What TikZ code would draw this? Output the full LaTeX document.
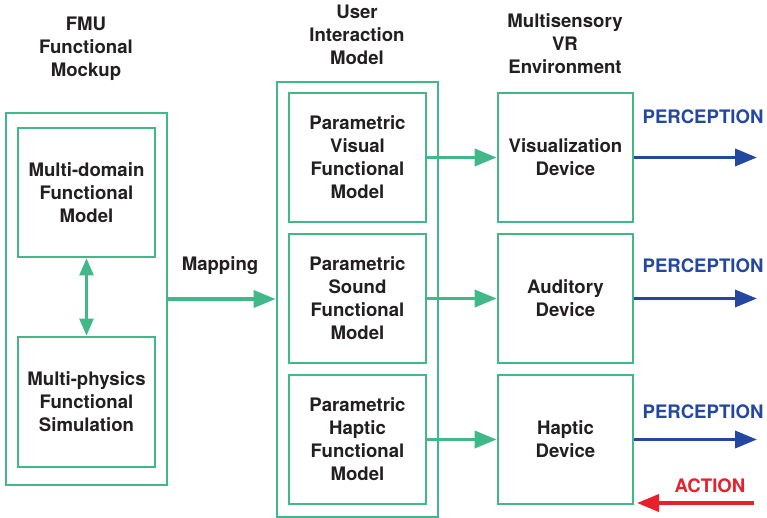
\documentclass[tikz,border=0pt]{standalone}
\usepackage{fontspec}
\setmainfont{TeX Gyre Heros}
\usetikzlibrary{arrows.meta}
\definecolor{gr}{RGB}{64,184,136}
\definecolor{bl}{RGB}{36,72,160}
\definecolor{rd}{RGB}{232,32,44}
\definecolor{tx}{RGB}{35,31,32}
\begin{document}
\begin{tikzpicture}[x=1pt,y=-1pt,
  every node/.style={font=\fontsize{18.6}{23}\selectfont\bfseries, text=tx, align=center, inner sep=0pt},
  gbox/.style={draw=gr, line width=2.7pt, rectangle},
  garrow/.style={draw=gr, line width=3.6pt, -{Triangle[length=22pt,width=17pt]}},
  darrow/.style={draw=gr, line width=2.6pt, {Triangle[length=17pt,width=14pt]}-{Triangle[length=17pt,width=14pt]}},
  barrow/.style={draw=bl, line width=3.6pt, -{Triangle[length=22pt,width=17pt]}},
  rarrow/.style={draw=rd, line width=3.6pt, -{Triangle[length=22pt,width=17pt]}},
  lab/.style={text=#1}]
\useasboundingbox (0,0) rectangle (767,518);
% headers
\node (h1) at (86,49) {FMU\\Functional\\Mockup};
\node (h2) at (357,35) {User\\Interaction\\Model};
\node (h3) at (565,44) {Multisensory\\VR\\Environment};
% left
\node[gbox, minimum width=161pt, minimum height=372pt] (fmu) at (86.5,299) {};
\node[gbox, minimum width=137pt, minimum height=129pt] (mdf) at (86.5,192.5) {Multi-domain\\Functional\\Model};
\node[gbox, minimum width=137pt, minimum height=130pt] (mpf) at (86.5,402) {Multi-physics\\Functional\\Simulation};
\draw[darrow] (mdf.south) -- (mdf.south |- mpf.north);
% middle
\node[gbox, minimum width=161pt, minimum height=435pt] (uim) at (357.5,299.5) {};
\node[gbox, minimum width=137pt, minimum height=129pt] (pv) at (357.5,157.5) {Parametric\\Visual\\Functional\\Model};
\node[gbox, minimum width=137pt, minimum height=129pt] (ps) at (357.5,298.5) {Parametric\\Sound\\Functional\\Model};
\node[gbox, minimum width=137pt, minimum height=129pt] (ph) at (357.5,439.5) {Parametric\\Haptic\\Functional\\Model};
% right
\node[gbox, minimum width=135pt, minimum height=129pt] (vd) at (565.5,157.5) {Visualization\\Device};
\node[gbox, minimum width=135pt, minimum height=129pt] (ad) at (565.5,298.5) {Auditory\\Device};
\node[gbox, minimum width=135pt, minimum height=129pt] (hd) at (565.5,439.5) {Haptic\\Device};
% mapping
\draw[garrow] (fmu.east) -- (fmu.east -| uim.west);
\node (map) at (220,266) {Mapping};
\draw[garrow] (pv.east) -- (vd.west);
\draw[garrow] (ps.east) -- (ad.west);
\draw[garrow] (ph.east) -- (hd.west);
% outputs
\coordinate (o1) at (757,157.5);
\coordinate (o2) at (757,298.5);
\coordinate (o3) at (757,439.5);
\draw[barrow] (vd.east) -- (o1);
\draw[barrow] (ad.east) -- (o2);
\draw[barrow] (hd.east) -- (o3);
\node[lab=bl] (p1) at (703,117) {PERCEPTION};
\node[lab=bl] (p2) at (703,266) {PERCEPTION};
\node[lab=bl] (p3) at (703,412) {PERCEPTION};
\coordinate (as) at (754,503);
\coordinate (ae) at (637,503);
\draw[rarrow] (as) -- (ae);
\node[lab=rd] (act) at (710,486) {ACTION};
\end{tikzpicture}
\end{document}
